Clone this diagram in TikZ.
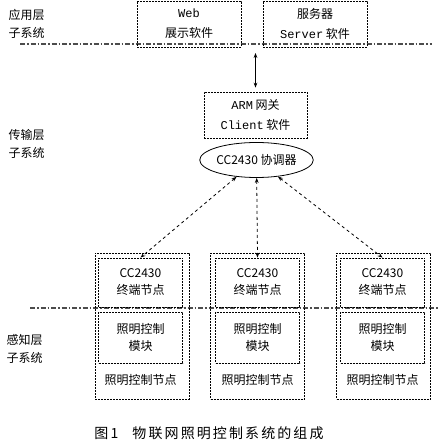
\documentclass[tikz,border=0pt]{standalone}
\usepackage{fontspec}
\setmainfont{Noto Sans CJK SC}
\newfontfamily\monofnt{Liberation Mono}
\newfontfamily\capfnt[LetterSpace=15]{Noto Sans CJK SC}
\usepackage{tikz}
\usetikzlibrary{arrows.meta,positioning,shapes.geometric}

\tikzset{
  dotbox/.style={draw,line width=0.8pt,dash pattern=on 2pt off 1pt,minimum width=84pt,align=center,inner sep=1pt,
    font=\fontsize{12}{17}\selectfont},
  layerline/.style={line width=1.3pt,gray!60!black,dash pattern=on 5pt off 2pt on 1.5pt off 2pt},
  layerlbl/.style={anchor=west,align=left,font=\fontsize{12}{18}\selectfont},
  link/.style={{Stealth[length=5pt]}-{Stealth[length=5pt]},thick},
  radiolink/.style={link,dashed}
}

\begin{document}
\begin{tikzpicture}[x=1pt,y=-1pt]
\useasboundingbox (0,0) rectangle (438,443);
% layer separators
\draw[layerline] (20,44) -- (432,44);
\draw[layerline] (30,308) -- (438,308);
% layer labels
\node[layerlbl] (lblApp) at (5,24) {应用层\\子系统};
\node[layerlbl] (lblNet) at (5,144) {传输层\\子系统};
\node[layerlbl] (lblSense) at (3,349) {感知层\\子系统};
% application layer
\node[dotbox,minimum width=104pt,minimum height=46pt,font=\fontsize{12}{20}\selectfont] (web) at (189,24) {{\monofnt Web}\\展示软件};
\node[dotbox,minimum width=104pt,minimum height=46pt,font=\fontsize{12}{20}\selectfont] (server) at (315,24) {服务器\\{\monofnt Server} 软件};
% transport layer
\node[dotbox,minimum width=103pt,minimum height=46pt,font=\fontsize{12}{20}\selectfont] (arm) at (255.5,115) {{\monofnt ARM} 网关\\{\monofnt Client} 软件};
\node[draw,thick,ellipse,minimum width=103pt,minimum height=35pt,inner sep=0pt,
  font=\fontsize{12}{14}\selectfont] (coord) at (256.5,160) {CC2430 协调器};
\coordinate (busTop) at (255.5,53);
\draw[link,shorten <=4pt] (arm.north) -- (busTop);
% sensing layer
\foreach \i/\x/\ix in {1/142/140.5,2/257.5/257.5,3/383.5/382.5}{
  \node[dotbox,minimum width=94pt,minimum height=146pt] (node\i) at (\x,326) {};
  \node[dotbox,minimum height=49pt] (radio\i) at (\ix,282.5) {CC2430\\终端节点};
  \node[dotbox,minimum height=51pt] (light\i) at (\ix,337.5) {照明控制\\模块};
  \node[font=\fontsize{12}{14}\selectfont] (name\i) at (\ix,380) {照明控制节点};
  \draw[radiolink] (coord) -- (radio\i.north);
}
% caption
\node[font=\fontsize{14}{16}\selectfont] (caption) at (209,433) {\capfnt 图\,1\hspace{14pt}物联网照明控制系统的组成};
\end{tikzpicture}
\end{document}
